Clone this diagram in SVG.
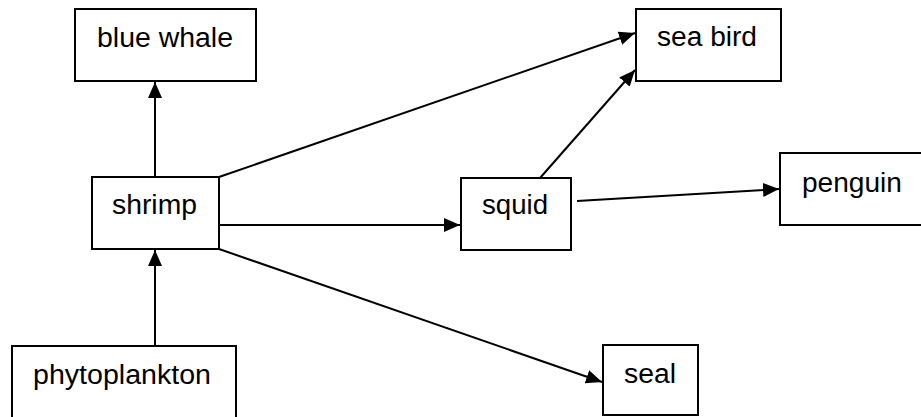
<svg xmlns="http://www.w3.org/2000/svg" width="921" height="417" viewBox="0 0 921 417">
<style>
.box{fill:#fff;stroke:#000;stroke-width:2}
.lbl{font-family:"Liberation Sans",Arial,sans-serif;font-size:27px;fill:#000}
.edge{stroke:#000;stroke-width:2;fill:none;marker-end:url(#ah)}
</style>
<defs>
<marker id="ah" markerUnits="userSpaceOnUse" markerWidth="17" markerHeight="14" refX="16" refY="7" orient="auto">
<path d="M0,0 L16,7 L0,14 Z" fill="#000"/>
</marker>
</defs>
<rect width="921" height="417" fill="#fff"/>
<g id="edges">
<line class="edge" x1="155" y1="177" x2="155" y2="82"/>
<line class="edge" x1="155" y1="346" x2="155" y2="250"/>
<line class="edge" x1="219" y1="225" x2="460" y2="225"/>
<line class="edge" x1="219" y1="177" x2="635" y2="33"/>
<line class="edge" x1="540" y1="178" x2="635" y2="70"/>
<line class="edge" x1="577" y1="201" x2="779" y2="189"/>
<line class="edge" x1="219" y1="249" x2="602" y2="382"/>
</g>
<g id="blue_whale"><rect class="box" x="75" y="9" width="181" height="72"/><text class="lbl" x="97" y="47" textLength="136" lengthAdjust="spacingAndGlyphs">blue whale</text></g>
<g id="shrimp"><rect class="box" x="92" y="177" width="127" height="72"/><text class="lbl" x="112" y="214" textLength="85" lengthAdjust="spacingAndGlyphs">shrimp</text></g>
<g id="squid"><rect class="box" x="461" y="178" width="110" height="72"/><text class="lbl" x="482" y="214" textLength="66" lengthAdjust="spacingAndGlyphs">squid</text></g>
<g id="sea_bird"><rect class="box" x="636" y="9" width="145" height="72"/><text class="lbl" x="657" y="46" textLength="100" lengthAdjust="spacingAndGlyphs">sea bird</text></g>
<g id="penguin"><rect class="box" x="780" y="153" width="150" height="72"/><text class="lbl" x="802" y="192" textLength="100" lengthAdjust="spacingAndGlyphs">penguin</text></g>
<g id="phytoplankton"><rect class="box" x="12" y="346" width="224" height="80"/><text class="lbl" x="33" y="384" textLength="178" lengthAdjust="spacingAndGlyphs">phytoplankton</text></g>
<g id="seal"><rect class="box" x="603" y="345" width="95" height="70"/><text class="lbl" x="624" y="383" textLength="52" lengthAdjust="spacingAndGlyphs">seal</text></g>
</svg>
